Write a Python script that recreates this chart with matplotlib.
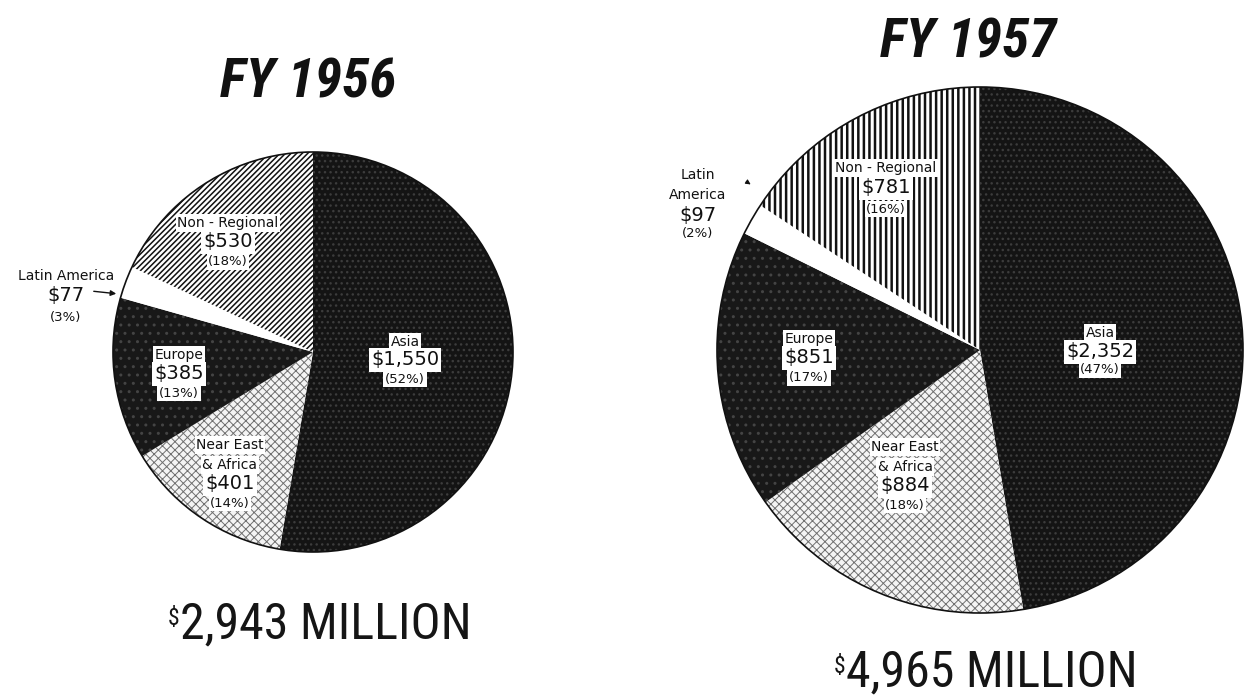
import matplotlib
matplotlib.use("Agg")
import matplotlib.pyplot as plt
from matplotlib.patches import Circle

# ---------------- data ----------------
regions = ["Asia", "Near East & Africa", "Europe", "Latin America", "Non-Regional"]
values_1956 = [1550, 401, 385, 77, 530]
pct_1956 = [52, 14, 13, 3, 18]
values_1957 = [2352, 884, 851, 97, 781]
pct_1957 = [47, 18, 17, 2, 16]
titles = ["FY 1956", "FY 1957"]
totals = ["2,943 MILLION", "4,965 MILLION"]

# label lines (as lettered on the chart)
names_1956 = [["Asia"], ["Near East", "& Africa"], ["Europe"], ["Latin America"], ["Non - Regional"]]
names_1957 = [["Asia"], ["Near East", "& Africa"], ["Europe"], ["Latin", "America"], ["Non - Regional"]]

# ---------------- layout / style ----------------
W, H = 1257, 697
def Y(y):
    return H - y

fig = plt.figure(figsize=(W / 100, H / 100), dpi=100)
ax = fig.add_axes([0, 0, 1, 1])

styles = [
    dict(fc="#141414", ec="#3c3c3c", hatch="...", hlw=1.0),   # Asia
    dict(fc="#f4f4f4", ec="#707070", hatch="xxxx", hlw=0.7),  # Near East
    dict(fc="#181818", ec="#444444", hatch="..", hlw=1.0),    # Europe
    dict(fc="#ffffff", ec="#ffffff", hatch=None, hlw=1.0),    # Latin America
]
nr_style = [dict(fc="#ffffff", ec="#111111", hatch="//////", hlw=1.1),
            dict(fc="#ffffff", ec="#111111", hatch="|||", hlw=1.8)]

LABEL_FONT = ["DejaVu Sans"]
NARROW = ["Liberation Sans Narrow", "Roboto Condensed", "Liberation Sans", "DejaVu Sans"]

def draw_pie(values, center, radius, nr_idx):
    wedges, _ = ax.pie(values, center=center, radius=radius, startangle=90,
                       counterclock=False, wedgeprops=dict(linewidth=0))
    sty = styles + [nr_style[nr_idx]]
    for w, s in zip(wedges, sty):
        w.set_facecolor(s["fc"])
        w.set_edgecolor(s["ec"])
        w.set_linewidth(0)
        if s["hatch"]:
            w.set_hatch(s["hatch"])
            if hasattr(w, "set_hatch_linewidth"):
                w.set_hatch_linewidth(s["hlw"])
    ax.add_patch(Circle(center, radius, fill=False, ec="#111111", lw=1.2, zorder=3))
    return wedges

def label(x, y_list, lines, value, pct, boxed=True):
    texts = lines + [f"${value:,}", f"({pct}%)"]
    sizes = [10] * len(lines) + [14, 9.5]
    for t, yy, fs in zip(texts, y_list, sizes):
        kw = {}
        if boxed:
            kw["bbox"] = dict(boxstyle="square,pad=0.12", fc="white", ec="none")
        ax.text(x, Y(yy), t, ha="center", va="center", fontsize=fs,
                family=LABEL_FONT, color="#111111", zorder=5, **kw)

# ---------------- FY 1956 ----------------
c56, r56 = (313, Y(352)), 200
draw_pie(values_1956, c56, r56, 0)
pos56 = [  # (x, [y per line])
    (405, [342, 360, 379]),
    (230, [445, 465, 484, 503]),
    (179, [355, 374, 393]),
    (66, [276, 296, 317]),
    (228, [223, 242, 262]),
]
for i in range(5):
    x, ys = pos56[i]
    label(x, ys, names_1956[i], values_1956[i], pct_1956[i], boxed=(i != 3))
ax.annotate("", xy=(119, Y(294)), xytext=(91, Y(291)),
            arrowprops=dict(arrowstyle="-|>", lw=1.0, color="#111111",
                            mutation_scale=8), zorder=6)

# ---------------- FY 1957 ----------------
c57, r57 = (980, Y(350)), 263
draw_pie(values_1957, c57, r57, 1)
pos57 = [
    (1100, [333, 352, 370]),
    (905, [447, 467, 486, 505]),
    (809, [339, 358, 378]),
    (698, [175, 195, 215, 234]),
    (886, [168, 188, 209]),
]
for i in range(5):
    x, ys = pos57[i]
    label(x, ys, names_1957[i], values_1957[i], pct_1957[i], boxed=(i != 3))
ax.annotate("", xy=(753, Y(186)), xytext=(744, Y(180)),
            arrowprops=dict(arrowstyle="-|>", lw=0.8, color="#111111",
                            mutation_scale=7), zorder=6)

ax.set_xlim(0, W)
ax.set_ylim(0, H)
ax.set_aspect("equal")
ax.axis("off")

# ---------------- titles & totals ----------------
for txt, (x, y) in zip(titles, [(308, 82), (968, 42)]):
    ax.text(x, Y(y), txt, ha="center", va="center", fontsize=40,
            fontweight="bold", fontstyle="italic", family=NARROW, color="#111111")

fig.canvas.draw()
renderer = fig.canvas.get_renderer()
inv = ax.transData.inverted()
for txt, (x, y) in zip(totals, [(326, 624), (992, 672)]):
    t = ax.text(x, Y(y), txt, ha="center", va="center", fontsize=36,
                family=NARROW, color="#151515")
    bb = t.get_window_extent(renderer=renderer)
    x0, y1 = inv.transform((bb.x0, bb.y1))
    ax.text(x0 - 1, y1 - 7, "$", ha="right", va="top", fontsize=17,
            family=NARROW, color="#151515")

fig.savefig("out.png", dpi=100, facecolor="white")
